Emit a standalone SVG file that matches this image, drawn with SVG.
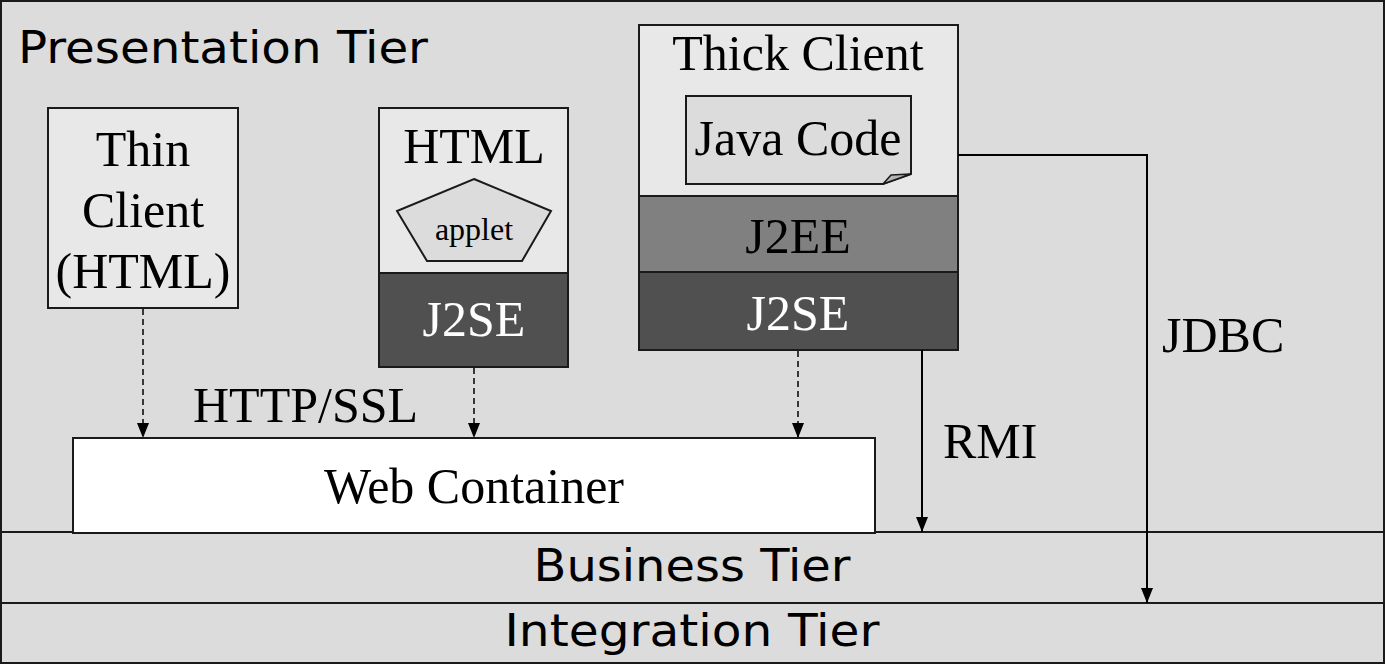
<svg xmlns="http://www.w3.org/2000/svg" width="1385" height="664" viewBox="0 0 1385 664">
<defs>
<style>
.tier{fill:#dcdcdc;stroke:#1a1a1a;stroke-width:2}
.light{fill:#e8e8e8;stroke:#1a1a1a;stroke-width:2}
.mid{fill:#808080;stroke:#1a1a1a;stroke-width:2}
.dark{fill:#505050;stroke:#1a1a1a;stroke-width:2}
.inner{fill:#dcdcdc;stroke:#1a1a1a;stroke-width:2}
.white{fill:#ffffff;stroke:#1a1a1a;stroke-width:2}
.serif{font-family:"Liberation Serif","Times New Roman",serif;font-size:50px;fill:#000}
.wt{fill:#fff}
.sans{font-family:"DejaVu Sans","Liberation Sans",sans-serif;font-size:45px;fill:#000}
.dash{fill:none;stroke:#000;stroke-width:1.5;stroke-dasharray:6,4}
.solid{fill:none;stroke:#000;stroke-width:2}
</style>
<marker id="arrd" markerWidth="12" markerHeight="15" refX="6" refY="15" orient="0" markerUnits="userSpaceOnUse" viewBox="0 0 12 15">
<path d="M0,0 L12,0 L6,15 Z" fill="#000"/>
</marker>
</defs>
<g id="presentation-tier">
<rect class="tier" x="1" y="1" width="1383" height="531"/>
<text class="sans" x="18" y="63" textLength="410" lengthAdjust="spacingAndGlyphs">Presentation Tier</text>
</g>
<g id="business-tier">
<rect class="tier" x="1" y="532" width="1383" height="71"/>
<text class="sans" x="692" y="581" text-anchor="middle" textLength="317" lengthAdjust="spacingAndGlyphs">Business Tier</text>
</g>
<g id="integration-tier">
<rect class="tier" x="1" y="603" width="1383" height="60"/>
<text class="sans" x="692" y="646" text-anchor="middle" textLength="375" lengthAdjust="spacingAndGlyphs">Integration Tier</text>
</g>
<g id="thin-client">
<rect class="light" x="48" y="108" width="190" height="200"/>
<text class="serif" x="143" y="166" text-anchor="middle">Thin</text>
<text class="serif" x="143" y="227" text-anchor="middle">Client</text>
<text class="serif" x="143" y="288" text-anchor="middle">(HTML)</text>
</g>
<g id="html-client">
<rect class="light" x="379" y="108" width="189" height="165"/>
<text class="serif" x="474" y="163" text-anchor="middle">HTML</text>
<polygon class="inner" points="474,179 551,211 522,261 427,261 397,211"/>
<text class="serif" x="474" y="240" text-anchor="middle" style="font-size:32px">applet</text>
<rect class="dark" x="379" y="273" width="189" height="94"/>
<text class="serif wt" x="474" y="336" text-anchor="middle">J2SE</text>
</g>
<g id="thick-client">
<rect class="light" x="639" y="25" width="319" height="171"/>
<text class="serif" x="798" y="70" text-anchor="middle">Thick Client</text>
<path class="inner" d="M686,96 L911,96 L911,174 L883,184 L686,184 Z"/>
<path d="M883,184 L891,175 L911,174 Z" fill="#b4b4b4" stroke="#1a1a1a" stroke-width="1.5"/>
<text class="serif" x="798" y="155" text-anchor="middle">Java Code</text>
<rect class="mid" x="639" y="196" width="319" height="76"/>
<text class="serif" x="798" y="253" text-anchor="middle">J2EE</text>
<rect class="dark" x="639" y="272" width="319" height="78"/>
<text class="serif wt" x="798" y="330" text-anchor="middle">J2SE</text>
</g>
<g id="web-container">
<rect class="white" x="73" y="438" width="802" height="95"/>
<text class="serif" x="474" y="503" text-anchor="middle">Web Container</text>
</g>
<g id="connectors">
<line class="dash" x1="143" y1="309" x2="143" y2="438" marker-end="url(#arrd)"/>
<line class="dash" x1="474" y1="368" x2="474" y2="438" marker-end="url(#arrd)"/>
<line class="dash" x1="798" y1="351" x2="798" y2="438" marker-end="url(#arrd)"/>
<line class="solid" x1="922" y1="350" x2="922" y2="532" marker-end="url(#arrd)"/>
<polyline class="solid" points="958,155 1147,155 1147,603" marker-end="url(#arrd)"/>
<text class="serif" x="193" y="422">HTTP/SSL</text>
<text class="serif" x="943" y="458">RMI</text>
<text class="serif" x="1162" y="352">JDBC</text>
</g>
</svg>
